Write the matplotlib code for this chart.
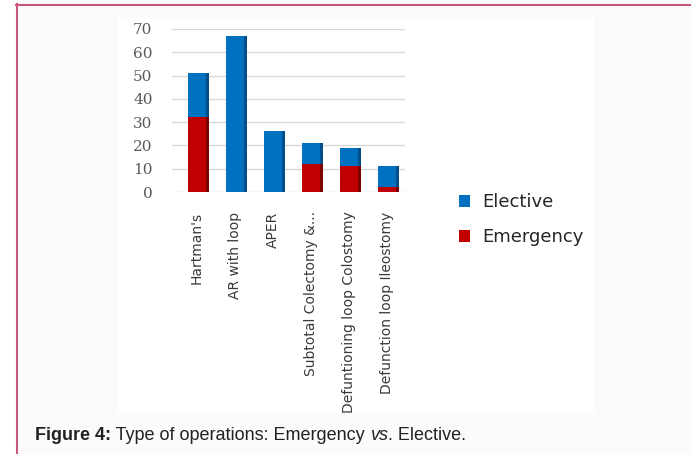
import matplotlib.pyplot as plt
import matplotlib.patches as mpatches
from matplotlib.lines import Line2D
import numpy as np

# operations, counts per type
operations = ["Hartman's", "AR with loop", "APER", "Subtotal Colectomy &...",
              "Defuntioning loop Colostomy", "Defunction loop Ileostomy"]
emergency = [32, 0, 0, 12, 11, 2]
elective = [19, 67, 26, 9, 8, 9]
yticks = [0, 10, 20, 30, 40, 50, 60, 70]

blue, blue_dark = '#0070c0', '#004f8a'
red, red_dark = '#c00000', '#7d0000'
W, H = 691, 454

fig = plt.figure(figsize=(W / 100, H / 100), dpi=100, facecolor='#fcfafb')

# white left margin + chart panel + page border
fig.patches.append(mpatches.Rectangle((0, 0), 16 / W, 1, transform=fig.transFigure,
                                      color='white', zorder=-1))
fig.patches.append(mpatches.Rectangle((118 / W, 1 - 412 / H), 475 / W, 394 / H,
                                      transform=fig.transFigure, color='white', zorder=-1))
fig.lines.append(Line2D([16.5 / W, 16.5 / W], [0, 1 - 4 / H], transform=fig.transFigure,
                        color='#c8587a', lw=1.5))
fig.lines.append(Line2D([16 / W, 1], [1 - 4.5 / H, 1 - 4.5 / H], transform=fig.transFigure,
                        color='#c8587a', lw=1.5))

ax = fig.add_axes([172 / W, 1 - 192 / H, 233 / W, 163 / H])
ax.set_facecolor('none')
x = np.arange(len(operations))
w = 0.47
em = np.array(emergency)
el = np.array(elective)

# darker side faces for a bit of depth
ax.bar(x + 0.07, em, w, color=red_dark, zorder=2)
ax.bar(x + 0.07, el, w, bottom=em, color=blue_dark, zorder=2)
ax.bar(x, em, w, color=red, zorder=3, label='Emergency')
ax.bar(x, el, w, bottom=em, color=blue, zorder=3, label='Elective')

ax.set_xlim(-0.66, 5.47)
ax.set_ylim(0, 70)
ax.set_yticks(yticks)
ax.grid(axis='y', color='#d9d9d9', lw=1, zorder=0)
for s in ax.spines.values():
    s.set_visible(False)
ax.tick_params(length=0)
ax.tick_params(axis='y', pad=14, labelcolor='#595959')
for lbl in ax.get_yticklabels():
    lbl.set_family('DejaVu Serif')
    lbl.set_fontsize(11)
ax.set_xticks(x)
ax.set_xticklabels(operations, rotation=90, fontsize=10, color='#3a3a3a',
                   family=['Liberation Sans Narrow', 'DejaVu Sans'])
ax.tick_params(axis='x', pad=14)

# legend
h, l = ax.get_legend_handles_labels()
fig.legend(h[::-1], l[::-1], loc='upper left', bbox_to_anchor=(443 / W, 1 - 177 / H),
           frameon=False, fontsize=13, handlelength=0.6, handleheight=0.6,
           labelspacing=0.95, handletextpad=0.7, labelcolor='#262626')

# caption
cap = dict(fontsize=13, family='Liberation Sans', color='#222222')
t1 = fig.text(35 / W, 1 - 435 / H, 'Figure 4:', weight='bold', va='center', **cap)
t2 = fig.text(0, 0, ' Type of operations: Emergency ', **cap)
t3 = fig.text(0, 0, 'vs', style='italic', **cap)
t4 = fig.text(0, 0, '. Elective.', **cap)
fig.canvas.draw()
r = fig.canvas.get_renderer()
prev = t1
for t in (t2, t3, t4):
    bb = prev.get_window_extent(r)
    t.set_position((bb.x1 / W, bb.y0 / H))
    t.set_va('bottom')
    fig.canvas.draw()
    prev = t

fig.savefig('out.png', dpi=100, facecolor=fig.get_facecolor())
